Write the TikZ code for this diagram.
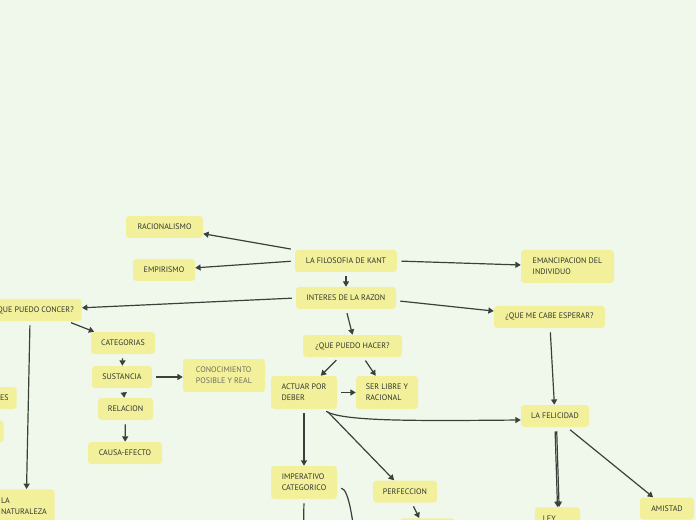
\documentclass[tikz,border=0pt]{standalone}
\usepackage{fontspec}
\setmainfont{PT Sans}
\usepackage{xcolor}
\usetikzlibrary{arrows.meta,positioning}
\definecolor{bg}{HTML}{F0F8EC}
\definecolor{note}{HTML}{F3F09C}
\definecolor{ink}{HTML}{3A403A}
\definecolor{txt}{HTML}{2F352F}
\definecolor{soft}{HTML}{6E6E5C}

\begin{document}
\begin{tikzpicture}[x=0.75pt,y=-0.75pt,
  box/.style={fill=note,rounded corners=2.5pt,inner xsep=6pt,inner ysep=0pt,minimum height=16.5pt,font=\fontsize{6}{8.25}\selectfont,text=txt},
  two/.style={box,align=left,minimum height=24.75pt},
  wd/.style={minimum width=#1*0.75pt},
  arr/.style={-{Triangle[length=4pt,width=4.5pt]},ink,line width=0.9pt,shorten <=3pt}]
\useasboundingbox (0,0) rectangle (696,520);
\clip (0,0) rectangle (696,520);
\fill[bg] (0,0) rectangle (696,520);
% center column
\node[box,wd=102] (kant) at (346,261) {LA FILOSOFIA DE KANT};
\node[box,wd=100] (int) at (346,298) {INTERES DE LA RAZON};
\node[box,wd=77] (racio) at (164.5,227) {RACIONALISMO};
\node[box,wd=62] (emp) at (164,270) {EMPIRISMO};
\node[two,wd=93] (eman) at (567.5,266.5) {EMANCIPACION DEL\\INDIVIDUO};
\node[box,wd=111] (esper) at (549.5,317) {¿QUE ME CABE ESPERAR?};
\node[box,wd=99] (hacer) at (352.5,346) {¿QUE PUEDO HACER?};
\node[two,wd=66] (actuar) at (304,392.5) {ACTUAR POR\\DEBER};
\node[two,wd=62] (ser) at (387,392.5) {SER LIBRE Y\\RACIONAL};
\node[box,wd=68] (feli) at (555,416) {LA FELICIDAD};
\node[two,wd=66] (imp) at (304,482.5) {IMPERATIVO\\CATEGORICO};
\node[box,wd=64] (perf) at (405,491.5) {PERFECCION};
\node[two,wd=55,anchor=north] (bajo) at (427.5,518) {};
\node[two,wd=45,anchor=north,text width=22pt] (ley) at (557.5,507) {LEY\\\phantom{X}};
\node[box,wd=54] (ami) at (667,508.5) {AMISTAD};
% left branch
\node[box,anchor=east] (concer) at (82,310) {¿QUE PUEDO CONCER?};
\node[box,anchor=east,text width=30pt,align=right] (ies) at (17,398) {IES};
\node[box,anchor=east,wd=40] (vacio) at (4,431.5) {};
\node[two,anchor=north east,inner xsep=6pt] (nat) at (55,489) {LA\\NATURALEZA};
\node[box,wd=64] (cat) at (123,343) {CATEGORIAS};
\node[box,wd=60] (sust) at (122,377) {SUSTANCIA};
\node[box,wd=55] (rel) at (125.5,409) {RELACION};
\node[box,wd=74] (causa) at (125,453) {CAUSA-EFECTO};
\node[two,wd=82,text=soft] (conoc) at (224,375.5) {CONOCIMIENTO\\POSIBLE Y REAL};
\coordinate (fuera1) at (303,560);
\coordinate (fuera2) at (358,570);

\draw[arr] (kant.north west) -- (racio);
\draw[arr] (kant.west) -- (emp);
\draw[arr] (kant.east) -- (eman);
\draw[arr] (kant) -- (int);
\draw[arr] (int.west) -- (concer);
\draw[arr] ([yshift=-2pt]int.east) -- (esper);
\draw[arr] (int.south) -- (hacer.north);
\draw[arr] ([xshift=-10pt]hacer.south) -- (actuar);
\draw[arr] ([xshift=8pt]hacer.south) -- (ser);
\draw[arr] (actuar) -- (ser);
\draw[arr] ([xshift=14pt]actuar.south) .. controls +(20,12) and +(-110,1) .. ([yshift=-3pt]feli.west);
\draw[arr] (actuar) -- (imp);
\draw[arr] ([xshift=16pt]actuar.south) -- (perf);
\draw[arr] (esper) -- (feli);
\draw[arr] (feli.south) -- (ley.north);
\draw[arr] ([xshift=1.2pt]feli.south) -- ([xshift=1.2pt]ley.north);
\draw[arr] ([xshift=9pt]feli.south) -- (ami);
\draw[arr] ([xshift=5pt]perf.south) -- (bajo);
\draw[arr] (imp.south) -- (fuera1);
\draw[arr] ([yshift=-4pt]imp.east) .. controls +(12,1) and +(-4,-45) .. (fuera2);
\draw[arr] ([xshift=-11pt]concer.south east) -- (cat);
\draw[arr] ([xshift=-39pt]concer.south east) -- ([xshift=2pt]nat.north);
\draw[arr] (cat) -- (sust);
\draw[arr] (sust.east) -- (sust.east -| conoc.west);
\draw[arr] (sust) -- (rel);
\draw[arr] (rel) -- (causa);
\end{tikzpicture}
\end{document}
